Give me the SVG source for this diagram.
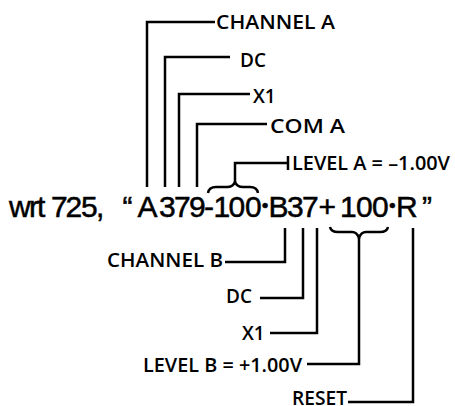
<svg xmlns="http://www.w3.org/2000/svg" width="455" height="406" viewBox="0 0 455 406">
<style>
.lbl{font-family:"Open Sans","Liberation Sans",sans-serif;font-weight:600;font-size:19px;fill:#000}
.main{font-family:"Liberation Sans",Arial,sans-serif;font-size:30px;fill:#000;stroke:#000;stroke-width:0.5}
.dot{font-size:19px}
.ln{fill:none;stroke:#000;stroke-width:2.5;stroke-linejoin:miter}
</style>
<rect width="455" height="406" fill="#fff"/>
<g id="command">
<text class="main" y="217"><tspan x="9 29 37 45 51 65.5 81 96 104 122.5 137.5 159 174 189 204 213.5 228.5 245">wrt 725, “A379-100</tspan><tspan class="dot" x="261.8" y="211.5">•</tspan><tspan x="268.6 287 302 318.5 340 356 372" y="217">B37+100</tspan><tspan class="dot" x="389" y="211.5">•</tspan><tspan x="396 422" y="217">R”</tspan></text>
</g>
<g id="channel-a"><text class="lbl" x="216" y="28.5" textLength="119" lengthAdjust="spacingAndGlyphs">CHANNEL A</text></g>
<g id="dc-a"><text class="lbl" x="240" y="66.5">DC</text></g>
<g id="x1-a"><text class="lbl" x="253" y="103">X1</text></g>
<g id="com-a"><text class="lbl" x="270" y="133" textLength="75" lengthAdjust="spacingAndGlyphs">COM A</text></g>
<g id="level-a"><text class="lbl" x="292" y="170" textLength="158" lengthAdjust="spacingAndGlyphs">LEVEL A = –1.00V</text></g>
<g id="channel-b"><text class="lbl" x="107" y="267" textLength="116" lengthAdjust="spacingAndGlyphs">CHANNEL B</text></g>
<g id="dc-b"><text class="lbl" x="226" y="303">DC</text></g>
<g id="x1-b"><text class="lbl" x="242" y="340">X1</text></g>
<g id="level-b"><text class="lbl" x="143" y="372" textLength="159" lengthAdjust="spacingAndGlyphs">LEVEL B = +1.00V</text></g>
<g id="reset"><text class="lbl" x="292" y="405" textLength="55" lengthAdjust="spacingAndGlyphs">RESET</text></g>
<g id="connectors">
<path class="ln" d="M147,187 V22 H215"/>
<path class="ln" d="M165,187 V57 H230"/>
<path class="ln" d="M179,187 V94 H250"/>
<path class="ln" d="M197,187 V124 H267"/>
<path class="ln" d="M208,193 Q209,187 216,187 L227,187 Q233,187 235,182 Q237,187 243,187 L250,187 Q257,187 258,193"/>
<path class="ln" d="M235,182 V163 H288 M288,156 V170"/>
<path class="ln" d="M285,228 V262 H225"/>
<path class="ln" d="M303,228 V298 H260"/>
<path class="ln" d="M317,228 V333 H270"/>
<path class="ln" d="M330,227 Q331,232 338,232 L352,232 Q357,232 359,238 Q361,232 366,232 L380,232 Q387,232 388,227"/>
<path class="ln" d="M359,238 V364 H307"/>
<path class="ln" d="M413,228 V402 H348"/>
</g>
</svg>
